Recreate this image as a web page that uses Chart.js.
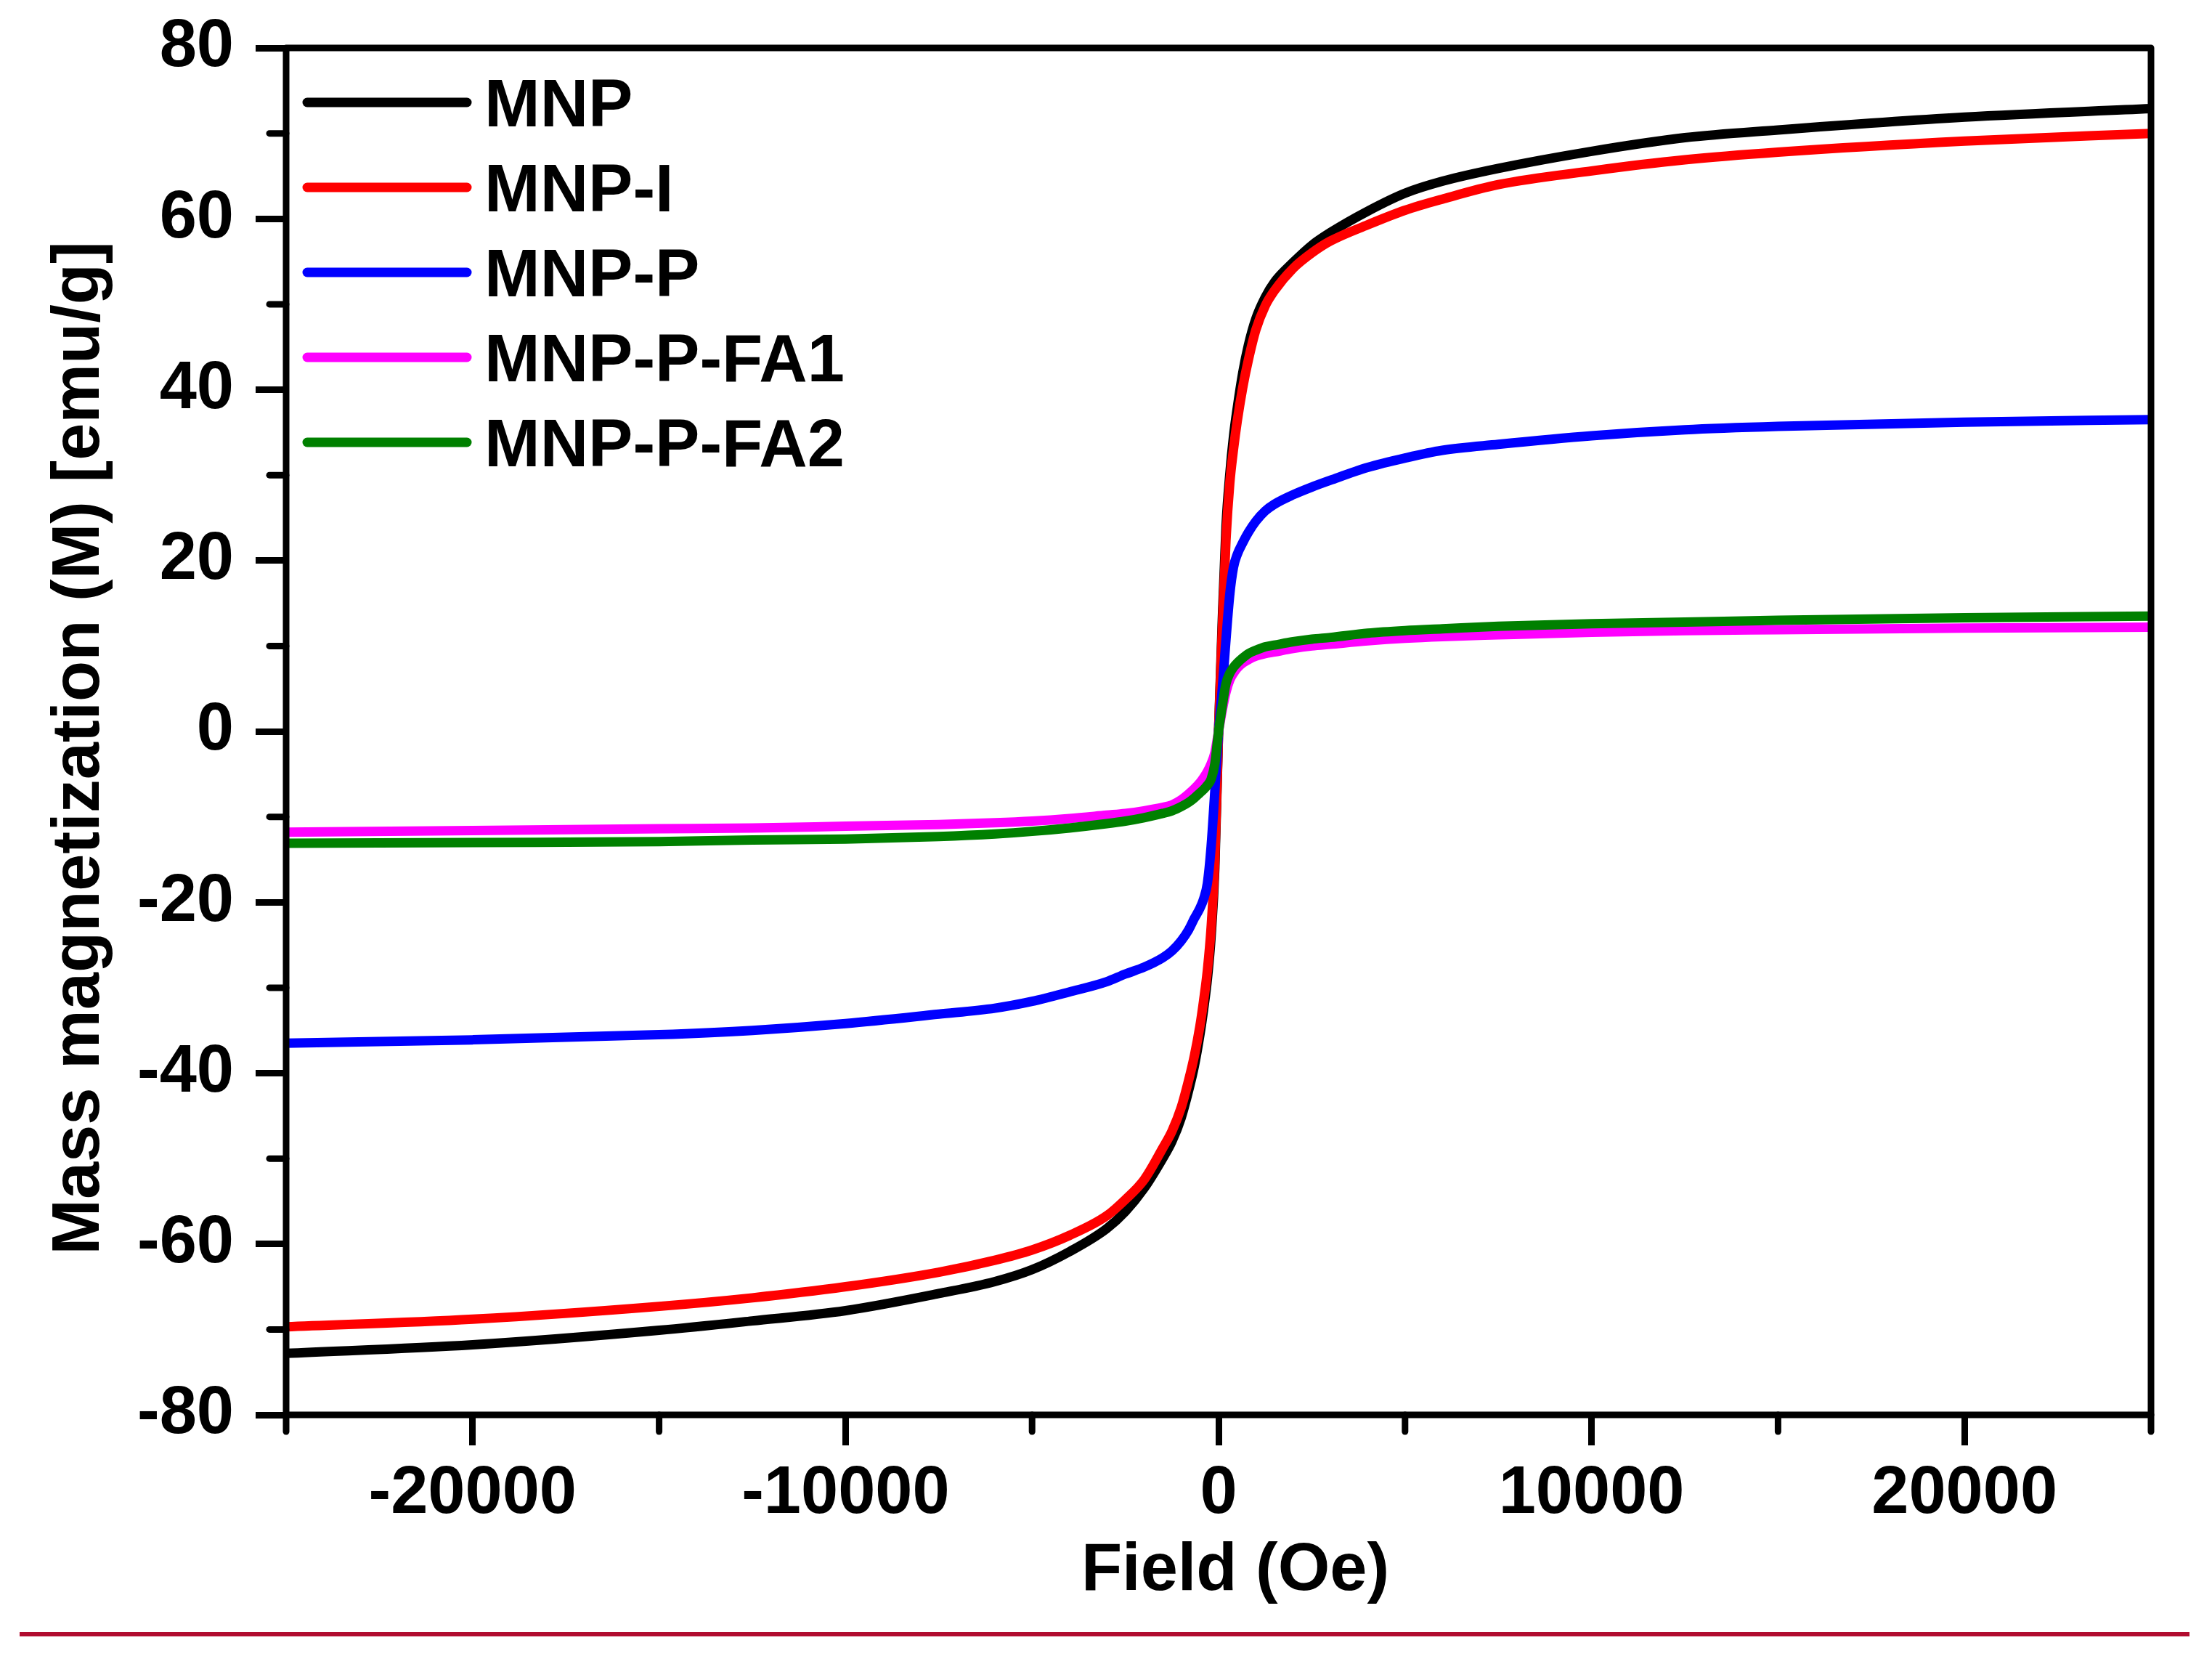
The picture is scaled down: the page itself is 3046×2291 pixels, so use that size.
<!DOCTYPE html>
<html>
<head>
<meta charset="utf-8">
<script src="https://cdn.jsdelivr.net/npm/chart.js@4"></script>
<style>
  html, body { margin: 0; padding: 0; background: #fff; }
  canvas { display: block; }
</style>
</head>
<body>
<canvas id="chart" width="3046" height="2291"></canvas>
<script>
// field in Oe, magnetization in emu/g
const field = [-25000, -20000, -15000, -12500, -10000, -7500, -6000, -5000, -4000, -3000, -2500, -2000, -1500, -1250,
  -1000, -800, -650, -500, -400, -300, -200, -100, 0, 100, 200, 300, 400, 500, 650, 800, 1000, 1250, 1500, 2000,
  2500, 3000, 4000, 5000, 6000, 7500, 10000, 12500, 15000, 20000, 25000];

const mnp = [-72.8, -71.8, -70.1, -69.0, -67.8, -65.8, -64.4, -63.0, -60.9, -58.2, -56.2, -53.5, -50.0, -48.0,
  -45.2, -42.0, -39.2, -35.5, -32.5, -29.0, -24.0, -16.0, 0, 13.0, 24.0, 30.0, 34.5, 37.8, 42.0, 45.2, 48.3, 50.8, 52.6, 54.9,
  56.9, 58.4, 60.9, 63.0, 64.4, 65.9, 67.9, 69.5, 70.4, 71.9, 72.9];
const mnpI = [-69.7, -68.8, -67.3, -66.3, -65.0, -63.3, -61.9, -60.7, -59.0, -56.7, -54.8, -52.5, -48.8, -46.8,
  -44.0, -40.8, -38.0, -34.5, -31.5, -28.0, -23.0, -15.0, 0, 12.0, 22.5, 29.0, 33.0, 36.3, 40.3, 43.5, 47.0, 49.8, 51.6, 54.2,
  56.0, 57.4, 59.3, 61.0, 62.3, 64.0, 65.6, 66.9, 67.8, 69.1, 70.0];
const mnpP = [-36.5, -36.1, -35.5, -35.0, -34.2, -33.1, -32.4, -31.6, -30.5, -29.3, -28.4, -27.6, -26.5, -25.7,
  -24.5, -23.2, -21.9, -20.7, -19.6, -17.8, -13.5, -7.0, 0, 5.0, 10.8, 16.0, 19.2, 20.7, 22.1, 23.3, 24.6, 25.8, 26.6, 27.7,
  28.6, 29.4, 30.9, 32.0, 32.9, 33.6, 34.6, 35.3, 35.7, 36.2, 36.5];
const mnpPFA1 = [-11.8, -11.6, -11.4, -11.3, -11.1, -10.9, -10.7, -10.5, -10.2, -9.8, -9.6, -9.3, -8.9, -8.6,
  -8.0, -7.3, -6.7, -6.0, -5.4, -4.7, -3.8, -2.5, 0, 2.5, 4.6, 6.0, 6.8, 7.4, 8.0, 8.4, 8.8, 9.1, 9.3, 9.7,
  10.0, 10.2, 10.6, 10.9, 11.1, 11.3, 11.6, 11.8, 11.9, 12.1, 12.2];
const mnpPFA2 = [-13.1, -13.0, -12.9, -12.7, -12.6, -12.3, -12.0, -11.7, -11.3, -10.8, -10.5, -10.1, -9.6, -9.3,
  -8.8, -8.3, -7.8, -7.2, -6.8, -6.3, -5.6, -3.8, 0, 3.0, 5.6, 6.8, 7.5, 8.0, 8.6, 9.1, 9.5, 9.9, 10.1, 10.5,
  10.8, 11.0, 11.5, 11.8, 12.0, 12.3, 12.6, 12.8, 13.0, 13.3, 13.5];

const seriesNames = ['MNP', 'MNP-I', 'MNP-P', 'MNP-P-FA1', 'MNP-P-FA2'];
const seriesColors = ['#000000', '#ff0000', '#0000ff', '#ff00ff', '#008000'];
const seriesValues = [mnp, mnpI, mnpP, mnpPFA1, mnpPFA2];

const xMajor = [-20000, -10000, 0, 10000, 20000];
const xMinor = [-25000, -15000, -5000, 5000, 15000, 25000];
const yMajor = [-80, -60, -40, -20, 0, 20, 40, 60, 80];
const yMinor = [-70, -50, -30, -10, 10, 30, 50, 70];

const FONT = 'Liberation Sans, Arial, sans-serif';

Chart.defaults.font.family = FONT;
Chart.defaults.font.weight = 'bold';
Chart.defaults.color = '#000';

const datasets = seriesNames.map((name, i) => ({
  label: name,
  data: field.map((x, j) => ({ x: x, y: seriesValues[i][j] })),
  borderColor: seriesColors[i],
  backgroundColor: seriesColors[i],
  borderWidth: 13,
  borderJoinStyle: 'round',
  pointRadius: 0,
  fill: false,
  cubicInterpolationMode: 'monotone',
  order: seriesNames.length - i, // last series on top
}));

// frame, minor ticks, legend and the rule under the figure
const decorations = {
  id: 'decorations',
  afterDatasetsDraw(chart) {
    const { ctx, chartArea: a, scales } = chart;
    ctx.save();
    ctx.strokeStyle = '#000';
    ctx.lineWidth = 9;
    ctx.lineJoin = 'round';
    ctx.lineCap = 'round';
    ctx.strokeRect(a.left, a.top, a.right - a.left, a.bottom - a.top);

    yMinor.forEach(v => {
      const py = scales.y.getPixelForValue(v);
      ctx.beginPath();
      ctx.moveTo(a.left - 23, py);
      ctx.lineTo(a.left, py);
      ctx.stroke();
    });
    xMinor.forEach(v => {
      const px = scales.x.getPixelForValue(v);
      ctx.beginPath();
      ctx.moveTo(px, a.bottom);
      ctx.lineTo(px, a.bottom + 23);
      ctx.stroke();
    });

    // legend
    ctx.font = 'bold 92px ' + FONT;
    ctx.textBaseline = 'alphabetic';
    ctx.textAlign = 'left';
    ctx.lineWidth = 13;
    seriesNames.forEach((name, i) => {
      const ly = a.top + 75 + i * 117;
      ctx.strokeStyle = seriesColors[i];
      ctx.beginPath();
      ctx.moveTo(a.left + 29, ly);
      ctx.lineTo(a.left + 249, ly);
      ctx.stroke();
      ctx.fillStyle = '#000';
      ctx.fillText(name, a.left + 273, ly + 33);
    });

    ctx.fillStyle = '#b10c2f';
    ctx.fillRect(27, 2247, 2988, 6);
    ctx.restore();
  }
};

new Chart(document.getElementById('chart'), {
  type: 'line',
  data: { datasets },
  plugins: [decorations],
  options: {
    responsive: false,
    devicePixelRatio: 1,
    animation: false,
    layout: { padding: { left: 0, top: 66, right: 84, bottom: 0 } },
    plugins: {
      legend: { display: false },
      tooltip: { enabled: false },
    },
    scales: {
      x: {
        type: 'linear',
        min: -25000,
        max: 25000,
        afterBuildTicks: s => { s.ticks = xMajor.map(v => ({ value: v })); },
        afterFit: s => { s.height = 2291 - 1948; s.paddingLeft = 0; s.paddingRight = 0; },
        border: { display: false },
        grid: { drawOnChartArea: false, drawTicks: true, tickLength: 42, tickWidth: 9, tickColor: '#000' },
        ticks: { padding: 12, font: { size: 92, weight: 'bold' }, color: '#000', callback: v => String(v) },
        // leading en space nudges the title right like in the original
        title: { display: true, text: '\u2002Field (Oe)', font: { size: 92, weight: 'bold' }, color: '#000', padding: { top: 0, bottom: 72 } },
      },
      y: {
        type: 'linear',
        min: -80,
        max: 80,
        afterBuildTicks: s => { s.ticks = yMajor.map(v => ({ value: v })); },
        afterFit: s => { s.width = 394; s.paddingTop = 0; s.paddingBottom = 0; },
        border: { display: false },
        grid: { drawOnChartArea: false, drawTicks: true, tickLength: 42, tickWidth: 9, tickColor: '#000' },
        ticks: { padding: 30, font: { size: 92, weight: 'bold' }, color: '#000', callback: v => String(v) },
        title: { display: true, text: 'Mass magnetization (M) [emu/g]\u2002', font: { size: 92, weight: 'bold' }, color: '#000', padding: { top: 55, bottom: 0 } },
      },
    },
  },
});
</script>
</body>
</html>
